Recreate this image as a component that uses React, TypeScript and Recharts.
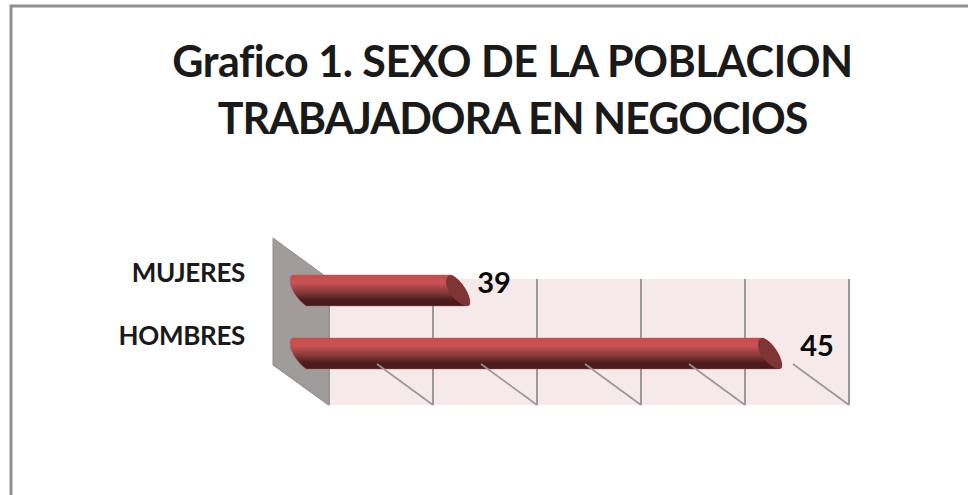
import React from 'react';
import { BarChart, Bar, XAxis, YAxis, CartesianGrid, LabelList } from 'recharts';

const categories = ['MUJERES', 'HOMBRES'];
const values = [39, 45];
const axisTicks = [36, 38, 40, 42, 44, 46];
const axisDomain = [36, 46];
const titleLines = ['Grafico 1. SEXO DE LA POBLACION', 'TRABAJADORA EN NEGOCIOS'];

const data = categories.map((name, i) => ({ name, value: values[i] }));

const DEPTH_X = 39;
const DEPTH_Y = 20;
const FONT = 'Lato, "Open Sans", sans-serif';
const LABEL_DX: Record<string, number> = { 39: 48, 45: 59 };
const TITLE_SPACING = [-0.5, -1.05];

function Cylinder(props: any) {
  const { x, y, width, height } = props;
  const L = x - DEPTH_X;
  const T = y - DEPTH_Y;
  const B = T + height;
  const R = L + width + 5;
  const body = `M${L + 3},${T} L${R},${T} C${R + 10},${T + 4} ${R + 19},${B - 12} ${R + 19},${B - 3} Q${R + 19},${B} ${R + 15},${B} L${L + 16},${B} C${L + 8},${B - 6} ${L},${T + 14} ${L},${T + 6} Q${L},${T} ${L + 3},${T} Z`;
  const cap = `M${R},${T} C${R + 10},${T + 4} ${R + 19},${B - 12} ${R + 19},${B - 3} Q${R + 19},${B} ${R + 15},${B} C${R + 6},${B - 2} ${R - 5},${T + 16} ${R - 5},${T + 7} Q${R - 5},${T} ${R},${T} Z`;
  return (
    <g>
      <path d={body} fill="url(#cyl)" stroke="#b85a5a" strokeOpacity={0.5} strokeWidth={0.8} />
      <path d={cap} fill="#7e3535" />
    </g>
  );
}

function ValueLabel(props: any) {
  const { x, y, width, height, value } = props;
  return (
    <text x={x - DEPTH_X + width + LABEL_DX[value]} y={y - DEPTH_Y + height / 2 - 8} dy="0.35em"
      textAnchor="middle" fontFamily={FONT} fontSize={29} fontWeight={700} fill="#0a0a0a">{value}</text>
  );
}

function FloorTick(props: any) {
  const { x } = props;
  return <line x1={x} y1={405} x2={x - 56} y2={364} stroke="#999898" strokeWidth={1.6} />;
}

function CategoryTick(props: any) {
  const { y, payload } = props;
  return (
    <text x={245} y={y - DEPTH_Y - 18} dy="0.35em" textAnchor="end" fontFamily={FONT} fontSize={26}
      fontWeight={700} fill="#1a1a1a" letterSpacing={-0.3}>{payload.value}</text>
  );
}

export default function App() {
  return (
    <div style={{ position: 'absolute', left: 0, top: 0, width: 968, height: 495, background: '#fff', overflow: 'hidden' }}>
      <BarChart width={968} height={495} data={data} layout="vertical"
        margin={{ left: 309, right: 119, top: 279, bottom: 70 }} barSize={31}>
        <defs>
          <linearGradient id="cyl" x1="0" y1="0" x2="0" y2="1">
            <stop offset="0" stopColor="#c84c4c" />
            <stop offset="0.25" stopColor="#c95353" />
            <stop offset="0.55" stopColor="#8b3a3a" />
            <stop offset="0.8" stopColor="#4d1c1c" />
            <stop offset="1" stopColor="#4a1b1b" />
          </linearGradient>
        </defs>
        <rect x={11} y={6} width={1000} height={600} fill="none" stroke="#8f8f8f" strokeWidth={3} />
        {titleLines.map((line, i) => (
          <text key={line} x={512.5} y={77 + i * 57} textAnchor="middle" fontFamily={FONT} fontSize={43}
            fontWeight={700} fill="#1a1a1a" letterSpacing={TITLE_SPACING[i]}>{line}</text>
        ))}
        <CartesianGrid vertical horizontal={false} stroke="#999898" strokeWidth={2} fill="#f5e9e9"
          verticalValues={axisTicks} />
        <polygon points="273,238 329,279 329,405 273,365" fill="#a09c9c" stroke="#8f8c8c" strokeWidth={1} />
        <XAxis type="number" domain={axisDomain} ticks={axisTicks} axisLine={false} tickLine={false}
          height={20} tick={<FloorTick />} interval={0} />
        <YAxis type="category" dataKey="name" axisLine={false} tickLine={false} width={20} tick={<CategoryTick />} interval={0} />
        <Bar dataKey="value" shape={<Cylinder />} isAnimationActive={false}>
          <LabelList dataKey="value" content={<ValueLabel />} />
        </Bar>
      </BarChart>
    </div>
  );
}
